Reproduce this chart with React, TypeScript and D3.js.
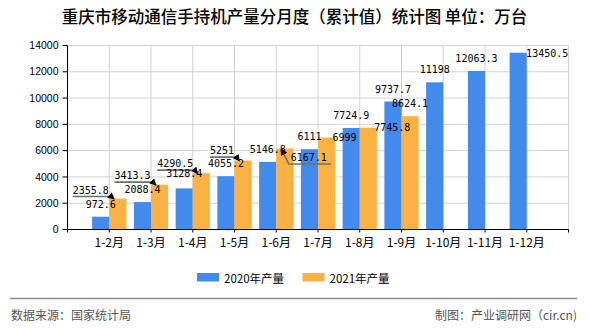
import React from "react";
import * as d3 from "d3";

const categories = ["1-2月", "1-3月", "1-4月", "1-5月", "1-6月", "1-7月", "1-8月", "1-9月", "1-10月", "1-11月", "1-12月"];
const values2020 = [972.6, 2088.4, 3128.4, 4055.2, 5146.8, 6111, 7724.9, 9737.7, 11198, 12063.3, 13450.5];
const values2021 = [2355.8, 3413.3, 4290.5, 5251, 6167.1, 6999, 7745.8, 8624.1];
const labels2020 = ["972.6", "2088.4", "3128.4", "4055.2", "5146.8", "6111", "7724.9", "9737.7", "11198", "12063.3", "13450.5"];
const labels2021 = ["2355.8", "3413.3", "4290.5", "5251", "6167.1", "6999", "7745.8", "8624.1"];
const yTicks = [0, 2000, 4000, 6000, 8000, 10000, 12000, 14000];
const seriesNames = ["2020年产量", "2021年产量"];

// label layout adjustments (collision avoidance in the original)
const shift2020: [number, number][] = [[0, 0], [0, 0], [0, -2.5], [0, 0], [0, 0], [0, 0], [0, 0], [0, 0], [0, 0], [0, 0], [29, 13]];
const shift2021: [number, number][] = [[-27, 4], [-27, 3.5], [-26, 3], [-21, 2.6], [24, 22], [18, 12], [24, 12], [0, 0]];
const leader2021 = ["under", "under", "under", "under", "bent", "", "", ""];

const BLUE = "#428BEC";
const ORANGE = "#FCB243";
const CJK = "'Noto Sans CJK SC', 'Noto Sans', sans-serif";
const SANS = "'Liberation Sans', Arial, sans-serif";
const MONO = "'DejaVu Sans Mono', 'Liberation Mono', monospace";

export default function App() {
  const W = 590, H = 330;
  const x = d3.scaleLinear().domain([0, 12]).range([67.5, 568.5]);
  const y = d3.scaleLinear().domain([0, 14000]).range([229.5, 45.5]);
  const step = x(1) - x(0);
  const bw = step * 0.41;
  const charW = 6.02;
  const xPositions = d3.range(0, 13);

  const arrowTip = (i: number) => [x(i + 1) + 5, y(values2021[i]) + 0.5];

  return (
    <svg width={W} height={H} style={{ position: "absolute", left: 0, top: 0, background: "#fff" }}>
      <defs>
        <marker id="arr" viewBox="0 0 10 10" refX="9" refY="5" markerWidth="7" markerHeight="7" markerUnits="userSpaceOnUse" orient="auto">
          <path d="M0,0 L10,5 L0,10 z" fill="#000" />
        </marker>
      </defs>
      <rect x={0} y={0} width={W} height={H} fill="#fff" />
      <text x={294.5} y={23} textAnchor="middle" fontFamily={CJK} fontSize={16.5} fontWeight={500} fill="#000">
        重庆市移动通信手持机产量分月度（累计值）统计图 单位：万台
      </text>

      {/* grid */}
      {yTicks.slice(1).map((t) => (
        <line key={"gy" + t} x1={x(0)} x2={x(12)} y1={y(t)} y2={y(t)} stroke="#d2d2d2" strokeWidth={1} />
      ))}
      {xPositions.slice(1).map((p) => (
        <line key={"gx" + p} x1={x(p)} x2={x(p)} y1={y(14000)} y2={y(0)} stroke="#d2d2d2" strokeWidth={1} />
      ))}

      {/* bars */}
      {values2020.map((v, i) => (
        <rect key={"b20" + i} x={x(i + 1) - bw} y={y(v)} width={bw} height={y(0) - y(v)} fill={BLUE} />
      ))}
      {values2021.map((v, i) => (
        <rect key={"b21" + i} x={x(i + 1)} y={y(v)} width={bw} height={y(0) - y(v)} fill={ORANGE} />
      ))}

      {/* axes */}
      <line x1={x(0)} x2={x(0)} y1={y(14000)} y2={y(0)} stroke="#000" />
      <line x1={x(0)} x2={x(12)} y1={y(0)} y2={y(0)} stroke="#000" />
      {yTicks.map((t) => (
        <g key={"yt" + t}>
          <line x1={x(0) - 5} x2={x(0)} y1={y(t)} y2={y(t)} stroke="#000" />
          <text x={x(0) - 9} y={y(t)} dy="0.35em" textAnchor="end" fontFamily={SANS} fontSize={10.5} fill="#000">
            {t}
          </text>
        </g>
      ))}
      {xPositions.map((p) => (
        <line key={"xt" + p} x1={x(p)} x2={x(p)} y1={y(0)} y2={y(0) + 3} stroke="#000" />
      ))}
      {categories.map((c, i) => (
        <text key={"xl" + i} x={x(i + 1)} y={246.5} textAnchor="middle" fontFamily={CJK} fontSize={12} fill="#000">
          {c}
        </text>
      ))}

      {/* leaders */}
      {values2021.map((v, i) => {
        const kind = leader2021[i];
        if (!kind) return null;
        const cx = x(i + 1) + bw / 2 + shift2021[i][0];
        const base = y(v) - 9 + shift2021[i][1];
        const w = labels2021[i].length * charW;
        const left = cx - w / 2;
        const right = cx + w / 2;
        const [tx, ty] = arrowTip(i);
        const d = kind === "under"
          ? `M${left},${base + 3} L${tx - 3},${base + 3} L${tx},${ty}`
          : `M${right + 4},${base + 2.5} L${left - 2},${base + 2.5} L${tx},${ty}`;
        return <path key={"ld" + i} d={d} fill="none" stroke="#6e6e6e" strokeWidth={1.6} markerEnd="url(#arr)" />;
      })}

      {/* value labels */}
      {values2020.map((v, i) => (
        <text key={"l20" + i} x={x(i + 1) - bw / 2 + shift2020[i][0]} y={y(v) - 9 + shift2020[i][1]} textAnchor="middle" fontFamily={MONO} fontSize={10} fill="#000">
          {labels2020[i]}
        </text>
      ))}
      {values2021.map((v, i) => (
        <text key={"l21" + i} x={x(i + 1) + bw / 2 + shift2021[i][0]} y={y(v) - 9 + shift2021[i][1]} textAnchor="middle" fontFamily={MONO} fontSize={10} fill="#000">
          {labels2021[i]}
        </text>
      ))}

      {/* legend */}
      <rect x={197} y={273} width={22} height={8.5} fill={BLUE} />
      <text x={224} y={283} fontFamily={CJK} fontSize={11.5} fill="#000">{seriesNames[0]}</text>
      <rect x={302.5} y={273} width={22} height={8.5} fill={ORANGE} />
      <text x={329.5} y={283} fontFamily={CJK} fontSize={11.5} fill="#000">{seriesNames[1]}</text>

      {/* footer */}
      <line x1={10} x2={577} y1={298.5} y2={298.5} stroke="#8a8a8a" strokeWidth={1.5} />
      <text x={11} y={320} fontFamily={CJK} fontSize={12} fill="#555">数据来源：国家统计局</text>
      <text x={577} y={320} textAnchor="end" fontFamily={CJK} fontSize={12} fill="#555">制图：产业调研网（cir.cn)</text>
    </svg>
  );
}
